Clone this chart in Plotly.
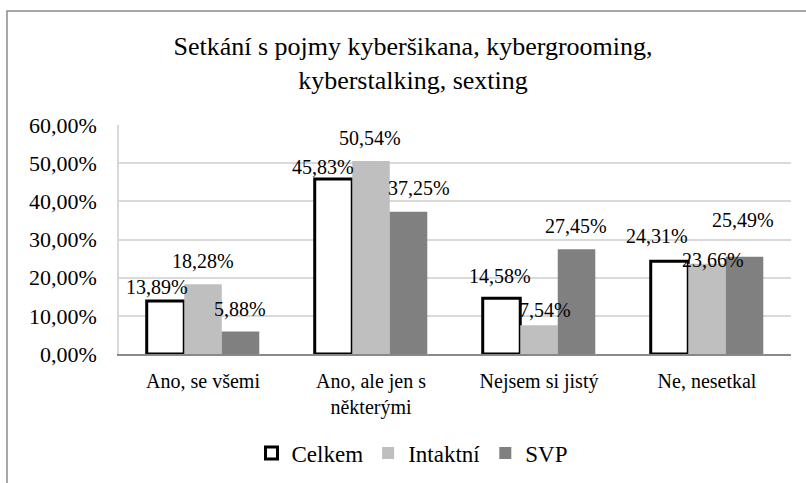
import plotly.graph_objects as go

# ---- data ----
categories = ["Ano, se všemi", "Ano, ale jen s<br>některými", "Nejsem si jistý", "Ne, nesetkal"]
series_names = ["Celkem", "Intaktní", "SVP"]
celkem = [0.1389, 0.4583, 0.1458, 0.2431]
intaktni = [0.1828, 0.5054, 0.0754, 0.2366]
svp = [0.0588, 0.3725, 0.2745, 0.2549]
y_ticks = [0, 0.1, 0.2, 0.3, 0.4, 0.5, 0.6]

# ---- style ----
font_family = "Liberation Serif, DejaVu Serif, Times New Roman, Times, serif"
fills = ["#FFFFFF", "#BFBFBF", "#808080"]
line_colors = ["#000000", "#BFBFBF", "#808080"]
line_widths = [3, 0, 0]
bargap = 0.33
# manual label nudges (pixels) as in the original chart: (dx, gap above bar top)
label_dx = [[-8, -10, -1, -12], [0, -1, 6, 6], [-1, 10, -1, -2]]
label_gap = [[7, 5, 15, 18], [16, 16, 8, -3], [16, 17, 16, 30]]

all_series = [celkem, intaktni, svp]
xs = list(range(len(categories)))
bw = (1 - bargap) / len(all_series)

fig = go.Figure()
for k, (name, vals) in enumerate(zip(series_names, all_series)):
    fig.add_trace(go.Bar(
        x=xs, y=vals, name=name,
        marker=dict(color=fills[k], line=dict(color=line_colors[k], width=line_widths[k])),
    ))

annotations = []
for k, vals in enumerate(all_series):
    for i, v in enumerate(vals):
        annotations.append(dict(
            x=i + (k - 1) * bw, y=v, xref="x", yref="y",
            text=f"{v*100:.2f}%".replace(".", ","),
            showarrow=False, yanchor="bottom", xanchor="center",
            xshift=label_dx[k][i], yshift=label_gap[k][i] - 6,
            font=dict(family=font_family, size=20, color="#000000"),
        ))

plot_l, plot_r, plot_t, plot_b = 119, 791, 125, 354
W, H = 806, 483
pw, ph = plot_r - plot_l, plot_b - plot_t

def px_x(p):
    return (p - plot_l) / pw

def px_y(p):
    return (plot_b - p) / ph

shapes = [dict(type="rect", xref="paper", yref="paper",
               x0=px_x(7), x1=px_x(W + 20), y0=px_y(H + 20), y1=px_y(11),
               line=dict(color="#8C8C8C", width=1.5), fillcolor="rgba(0,0,0,0)", layer="below")]

fig.update_layout(
    width=W, height=H,
    margin=dict(l=plot_l, r=W - plot_r, t=plot_t, b=H - plot_b, pad=0, autoexpand=False),
    paper_bgcolor="white", plot_bgcolor="white",
    barmode="group", bargap=bargap, bargroupgap=0,
    separators=", ",
    title=dict(text="Setkání s pojmy kyberšikana, kybergrooming,<br>kyberstalking, sexting",
               x=0.5124, xanchor="center", y=1 - 55 / H, yanchor="top", yref="container",
               font=dict(family=font_family, size=26, color="#000000")),
    font=dict(family=font_family, color="#000000"),
    xaxis=dict(tickmode="array", tickvals=xs, ticktext=categories, range=[-0.5, len(categories) - 0.5],
               showgrid=False, zeroline=False, showline=True, linecolor="#898989", linewidth=1.5,
               ticks="", tickfont=dict(family=font_family, size=20, color="#000000"),
               ticklabelstandoff=8, automargin=False),
    yaxis=dict(range=[0, 0.6], tickvals=y_ticks, tickformat=".2%", showgrid=True, gridcolor="#D9D9D9",
               gridwidth=1.5, zeroline=False, showline=True, linecolor="#D9D9D9", linewidth=1.5,
               ticks="", tickfont=dict(family=font_family, size=22, color="#000000"),
               ticklabelstandoff=16, automargin=False),
    legend=dict(orientation="h", x=px_x(412), xanchor="center", y=px_y(453), yanchor="middle",
                font=dict(family=font_family, size=23, color="#000000"), traceorder="normal",
                itemwidth=30, bgcolor="rgba(0,0,0,0)"),
    annotations=annotations,
    shapes=shapes,
    showlegend=True,
)

fig.write_html("out.html", config={"displayModeBar": False},
               post_script="document.body.style.margin='0px';")
